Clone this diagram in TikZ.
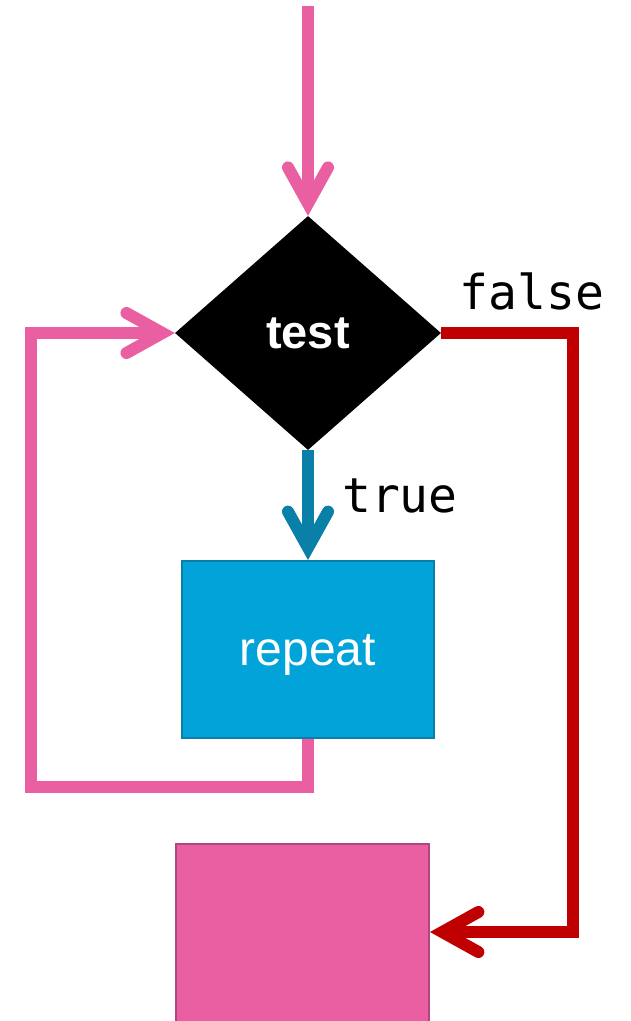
\documentclass[tikz,border=0pt]{standalone}
\usepackage{fontspec}
\setmainfont{Liberation Sans}
\newfontfamily\codefont{DejaVu Sans Mono}
\usetikzlibrary{shapes.geometric,arrows.meta}

\definecolor{flowpink}{HTML}{E95FA1}
\definecolor{flowred}{HTML}{C00000}
\definecolor{flowteal}{HTML}{0A7FA7}
\definecolor{boxblue}{HTML}{02A3D9}
\definecolor{boxblueedge}{HTML}{0A80A8}
\definecolor{boxpinkedge}{HTML}{B0487F}

\tikzset{
  flowtip/.style={-{Straight Barb[length=36pt,width=40pt,line cap=round,line join=miter]}},
  flowline/.style={line width=12pt,line join=miter,flowtip},
  decision/.style={diamond,fill=black,inner sep=0pt,minimum width=266pt,minimum height=234pt,
    text=white,font=\bfseries\fontsize{47}{50}\selectfont,text depth=0pt},
  actionbox/.style={rectangle,fill=boxblue,draw=boxblueedge,line width=2pt,
    minimum width=252pt,minimum height=177pt,inner sep=0pt,
    text=white,font=\fontsize{48}{50}\selectfont,text depth=0pt},
  exitbox/.style={rectangle,fill=flowpink,draw=boxpinkedge,line width=2pt,
    minimum width=253pt,minimum height=181pt,inner sep=0pt},
  codelabel/.style={anchor=base,inner sep=0pt,font=\codefont\fontsize{48}{50}\selectfont}
}

\begin{document}
\begin{tikzpicture}[x=1pt,y=-1pt]
  \useasboundingbox[fill=white] (0,0) rectangle (631,1021);

  % decision and the two boxes
  \node[decision] (tst) at (308,333) {test};
  \node[actionbox] (rep) at (308,649.5) {repeat};
  \node[exitbox] (out) at (302.5,934.5) {};

  % helper points for the routed connectors
  \coordinate (entry) at (308,6);
  \coordinate (loopcorner) at (31,787);
  \coordinate (exitcorner) at (573,932);

  % entry into the test
  \draw[flowline,flowpink] (entry) -- (tst.north);

  % true branch into the loop body
  \draw[flowline,flowteal] (tst.south) -- (rep.north);

  % back edge from the body to the test
  \draw[flowline,flowpink] (rep.south) |- (loopcorner) |- (tst.west);

  % false branch leaving the loop
  \draw[flowline,flowred] (tst.east) -| (exitcorner) -- (exitcorner -| out.east);

  % branch labels
  \node[codelabel] (lblfalse) at (532,309) {false};
  \node[codelabel] (lbltrue) at (400,512) {true};
\end{tikzpicture}
\end{document}
